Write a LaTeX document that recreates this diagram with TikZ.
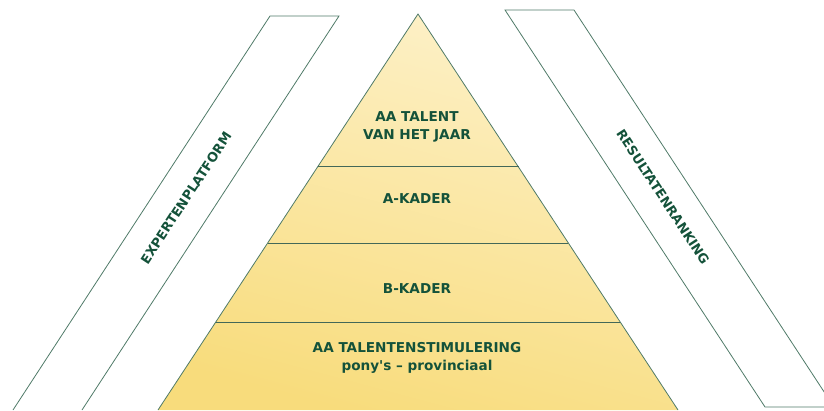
\documentclass[tikz,border=0pt]{standalone}
\usepackage{fontspec}
\newfontfamily\lblfont{DejaVu Sans}
\definecolor{txtgreen}{HTML}{14523A}
\definecolor{edgegreen}{HTML}{4F7A68}
\definecolor{ytop}{HTML}{FDF1C9}
\definecolor{ybot}{HTML}{F8DC7C}
\tikzset{
  lvl/.style={font=\lblfont\bfseries\fontsize{13.6}{18}\selectfont, text=txtgreen, align=center, inner sep=0pt},
  bandlbl/.style={font=\lblfont\bfseries\fontsize{13}{15}\selectfont, text=txtgreen, inner sep=0pt},
  edge/.style={draw=edgegreen, line width=0.8pt},
  divider/.style={draw=edgegreen!85!black, line width=1pt}
}
\begin{document}
\begin{tikzpicture}[x=1pt,y=1pt]
\useasboundingbox (0,0) rectangle (824,410);
\clip (0,0) rectangle (824,410);
% pyramid
\coordinate (apex) at (418,396);
\coordinate (bl) at (158,0);
\coordinate (br) at (678,0);
\shade[top color=ytop, bottom color=ybot, shading angle=-15] (apex) -- (br) -- (bl) -- cycle;
\draw[edge] (bl) -- (apex) -- (br);
% dividers
\draw[divider] (317.5,243) -- (518.5,243);
\draw[divider] (267.6,167) -- (568.4,167);
\draw[divider] (215.8,88) -- (620.2,88);
% left band
\draw[edge] (13,0) -- (270,394) -- (339,394) -- (82,0);
% right band
\draw[edge] (505,400) -- (574,400) -- (834,3) -- (765,3) -- cycle;
% labels
\node[lvl] (l1) at (417,283) {AA TALENT\\VAN HET JAAR};
\node[lvl] (l2) at (417,211) {A-KADER};
\node[lvl] (l3) at (417,121) {B-KADER};
\node[lvl] (l4) at (417,52) {AA TALENTENSTIMULERING\\pony's – provinciaal};
\node[bandlbl, rotate=56.8] (exp) at (186,212) {EXPERTENPLATFORM};
\node[bandlbl, rotate=-56.8] (res) at (663,213) {RESULTATENRANKING};
\end{tikzpicture}
\end{document}
